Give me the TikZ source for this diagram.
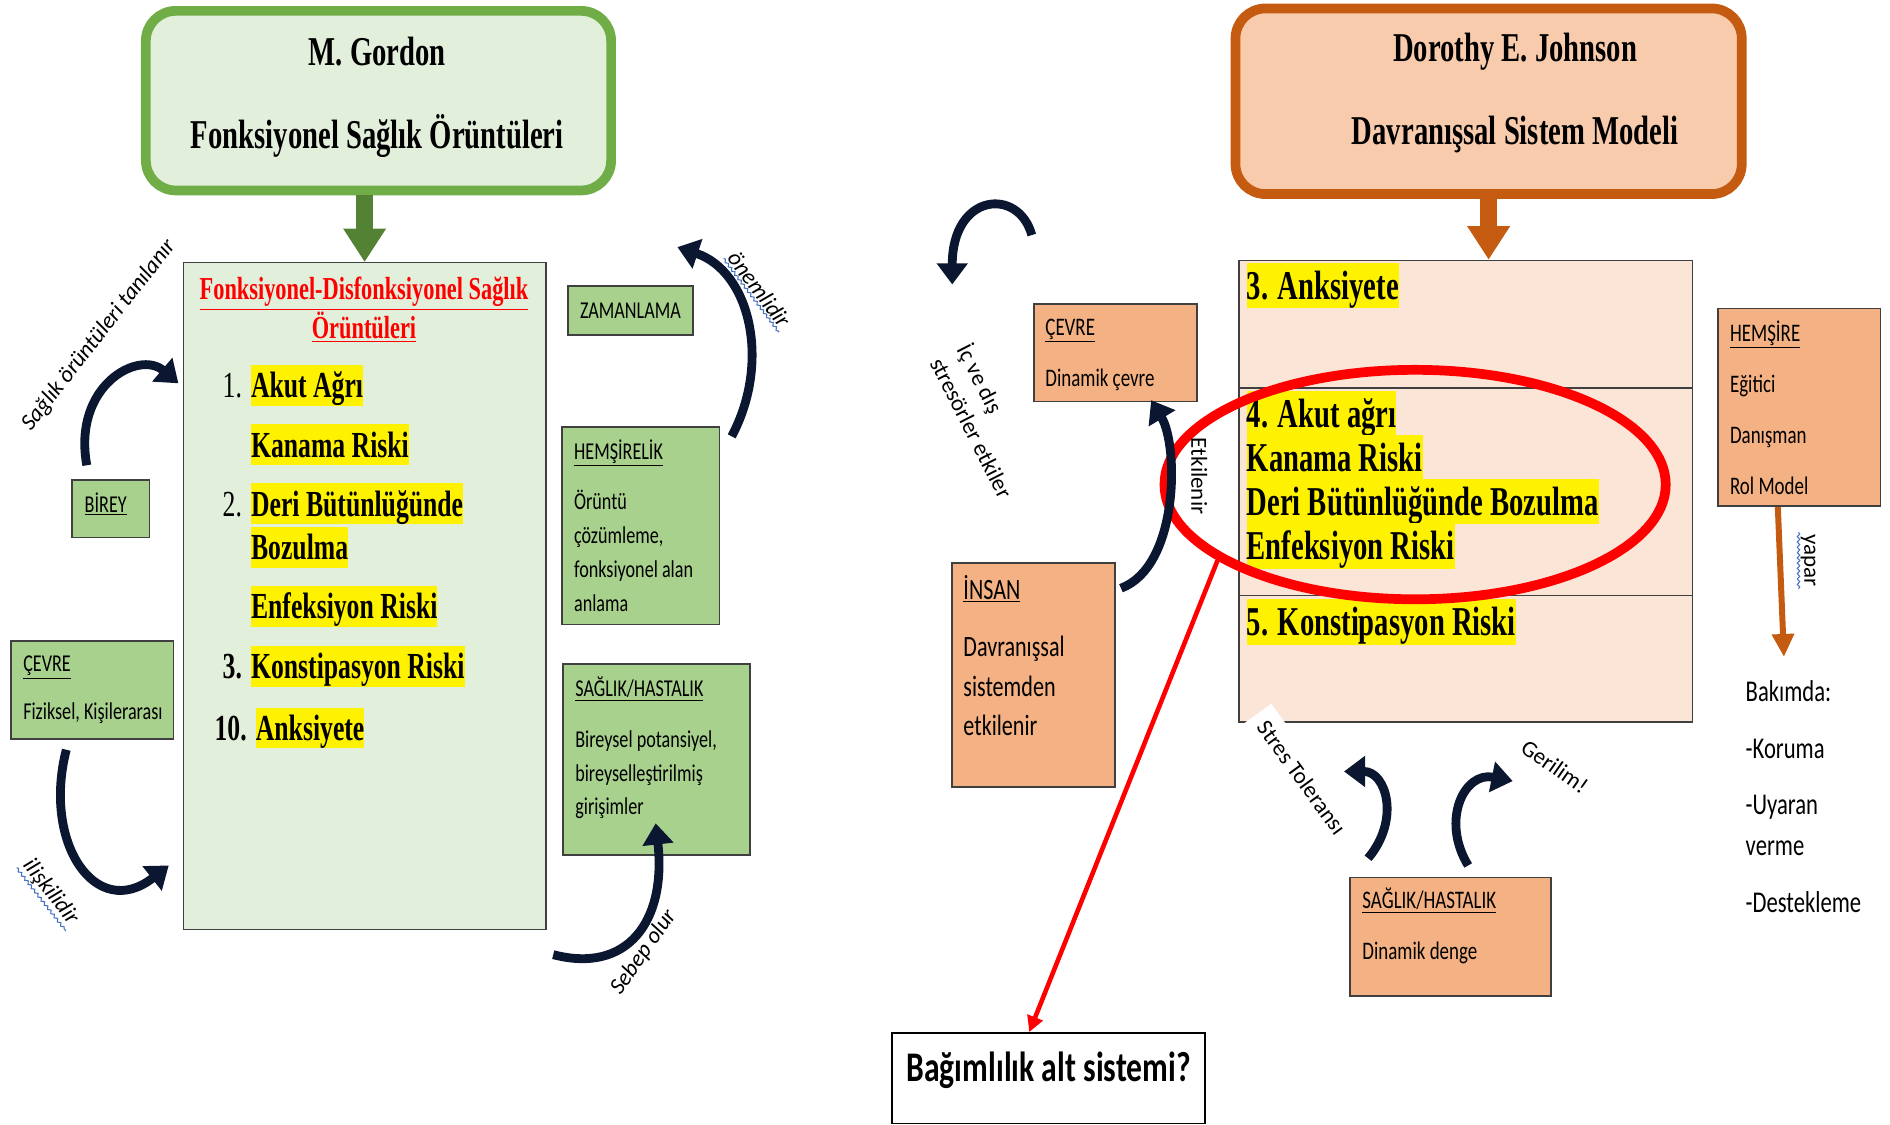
\documentclass[tikz,border=0pt]{standalone}
\usepackage{fontspec}
\setmainfont{Carlito}
\newfontfamily\timesc[FakeStretch=0.7]{Liberation Serif}
\newfontfamily\calic[FakeStretch=0.75]{Carlito}
\usepackage{tikz}
\usetikzlibrary{arrows.meta}
\usetikzlibrary{decorations.pathmorphing}
\usetikzlibrary{shapes,fit,calc,positioning}

\definecolor{gfill}{HTML}{E2EFDA}
\definecolor{gline}{HTML}{70AD47}
\definecolor{gdark}{HTML}{548235}
\definecolor{gsmall}{HTML}{A9D18E}
\definecolor{ofill}{HTML}{F8CBAD}
\definecolor{oline}{HTML}{C55A11}
\definecolor{opale}{HTML}{FBE5D6}
\definecolor{osmall}{HTML}{F4B183}
\definecolor{boxline}{HTML}{404040}
\definecolor{arcnavy}{HTML}{0B1730}
\definecolor{squig}{HTML}{4472C4}

\begin{document}
\begin{tikzpicture}[x=0.024cm,y=-0.024cm]
		\tikzstyle{model}=[rounded corners=17pt,line width=5.5pt,inner sep=0pt]
		\tikzstyle{panel}=[draw=boxline,line width=0.8pt,inner sep=0pt]
		\tikzstyle{small}=[draw=boxline,line width=1pt,inner sep=0pt]
		\tikzstyle{head}=[font=\timesc\bfseries\fontsize{23.2pt}{28pt}\selectfont,inner sep=0pt]
		\tikzstyle{lhl}=[fill=yellow,inner sep=0pt,anchor=west,font=\timesc\bfseries\fontsize{20.8pt}{25pt}\selectfont,text height=18.5pt,text depth=4.6pt]
		\tikzstyle{rhl}=[fill=yellow,inner sep=0pt,anchor=west,font=\timesc\bfseries\fontsize{23.2pt}{28pt}\selectfont,text height=20.6pt,text depth=5.1pt]
		\tikzstyle{num}=[inner sep=0pt,anchor=east,font=\timesc\fontsize{20.8pt}{25pt}\selectfont,text height=18.5pt,text depth=4.6pt]
		\tikzstyle{numb}=[num,font=\timesc\bfseries\fontsize{20.8pt}{25pt}\selectfont]
		\tikzstyle{ltxt}=[font=\calic\fontsize{13.7pt}{16pt}\selectfont,inner sep=0pt,anchor=base west]
		\tikzstyle{rtxt}=[font=\calic\fontsize{14.3pt}{17pt}\selectfont,inner sep=0pt,anchor=base west]
		\tikzstyle{note}=[font=\fontsize{13pt}{17pt}\selectfont,inner sep=1pt]
		\tikzstyle{inote}=[font=\itshape\fontsize{13pt}{17pt}\selectfont,inner sep=1pt]
		\tikzstyle{curv}=[draw=arcnavy,line width=5pt,-{Triangle[width=17pt,length=12pt]}]
		\tikzstyle{squiggle}=[draw=squig,line width=0.6pt,decorate,decoration={snake,amplitude=0.7pt,segment length=3pt}]

		\useasboundingbox (0,0) rectangle (1568,933);

		% left: Gordon
		\node[model,draw=gline,fill=gfill,fit={(121,9) (507,158)}](gordon){};
		\node[head](gname) at (313,43){M. Gordon};
		\node[head](gtitle) at (313,113){Fonksiyonel Sağlık Örüntüleri};

		\node[panel,fill=gfill,fit={(152,218) (453,771)}](fds){};
		\draw[gdark,line width=9.5pt,-{Triangle[width=23pt,length=19pt]}] (gordon.south -| fds.north) -- (fds.north);

		\node[font=\timesc\bfseries\fontsize{18.1pt}{20.5pt}\selectfont,text=red,align=center,inner sep=0pt](fdstitle) at (302,257){\underline{Fonksiyonel-Disfonksiyonel Sağlık}\\\underline{Örüntüleri}};

		\node[num](n1) at (201,320){1.};
		\node[lhl](l1) at (208,320){Akut Ağrı};
		\node[lhl](l2) at (208,369){Kanama Riski};
		\node[num](n2) at (201,418){2.};
		\node[lhl](l3) at (208,418){Deri Bütünlüğünde};
		\node[lhl](l4) at (208,454){Bozulma};
		\node[lhl](l5) at (208,503){Enfeksiyon Riski};
		\node[numb](n3) at (201,553){3.};
		\node[lhl](l6) at (208,553){Konstipasyon Riski};
		\node[numb](n10) at (205,604){10.};
		\node[lhl](l7) at (212,604){Anksiyete};

		\node[small,fill=gsmall,fit={(471,237) (575,278)}](zaman){};
		\node[font=\calic\fontsize{13.7pt}{16pt}\selectfont,inner sep=0pt](zamantxt) at (zaman.center){ZAMANLAMA};

		\node[small,fill=gsmall,fit={(466,354) (597,518)}](hemlik){};
		\node[ltxt](hemlik0) at (476,381){\underline{HEMŞİRELİK}};
		\foreach \t [count=\i] in {Örüntü,{çözümleme,},fonksiyonel alan,anlama}
			\node[ltxt](hemlik\i) at (476,395+28*\i){\t};

		\node[small,fill=gsmall,fit={(467,551) (622,709)}](lsag){};
		\node[ltxt](lsag0) at (477,578){\underline{SAĞLIK/HASTALIK}};
		\foreach \t [count=\i] in {{Bireysel potansiyel,},bireyselleştirilmiş,girişimler}
			\node[ltxt](lsag\i) at (477,592+28*\i){\t};

		\node[small,fill=gsmall,fit={(60,398) (124,446)}](birey){};
		\node[ltxt](bireytxt) at (70,425){\underline{BİREY}};

		\node[small,fill=gsmall,fit={(9,532) (144,613)}](lcevre){};
		\node[ltxt](lcevre0) at (19,557){\underline{ÇEVRE}};
		\node[ltxt](lcevre1) at (19,597){Fiziksel, Kişilerarası};

		% left curved arrows
		\coordinate (birA) at (72,386);
		\coordinate (birB) at (148,318);
		\draw[curv] (birA) .. controls (60,320) and (115,290) .. (birB);
		\node[inote,rotate=52](sagtan) at (82,278){Sağlık örüntüleri tanılanır};

		\coordinate (cevA) at (55,622);
		\coordinate (cevB) at (140,718);
		\draw[curv] (cevA) .. controls (35,700) and (80,765) .. (cevB);
		\node[inote,rotate=-52](iliski) at (42,740){ilişkilidir};
		\draw[squiggle] (iliski.south west) -- (iliski.south east);

		\coordinate (onA) at (607,362);
		\coordinate (onB) at (562,205);
		\draw[curv] (onA) .. controls (640,300) and (622,225) .. (onB);
		\node[inote,rotate=-53](onem) at (630,240){önemlidir};
		\draw[squiggle] (onem.south west) -- (onem.south east);

		\coordinate (sebA) at (459,792);
		\coordinate (sebB) at (544,683);
		\draw[curv] (sebA) .. controls (520,808) and (553,765) .. (sebB);
		\node[inote,rotate=55](sebep) at (534,790){Sebep olur};

		% right: Johnson
		\node[model,draw=oline,fill=ofill,fit={(1025,7) (1445,161)}](johnson){};
		\node[head](jname) at (1257,43){Dorothy E. Johnson};
		\node[head](jtitle) at (1257,112){Davranışsal Sistem Modeli};

		\node[panel,fill=opale,fit={(1028,216) (1404,322)}](rtop){};
		\node[panel,fill=opale,fit={(1028,322) (1404,494)}](rmid){};
		\node[panel,fill=opale,fit={(1028,494) (1404,599)}](rbot){};
		\draw[oline,line width=9.5pt,-{Triangle[width=23pt,length=19pt]}] (johnson.south) -- (johnson.south |- rtop.north);

		\node[rhl](r1) at (1034,237){3. Anksiyete};
		\node[rhl](r2) at (1034,343){4. Akut ağrı};
		\node[rhl](r3) at (1034,380){Kanama Riski};
		\node[rhl](r4) at (1034,416){Deri Bütünlüğünde Bozulma};
		\node[rhl](r5) at (1034,453){Enfeksiyon Riski};
		\node[rhl](r6) at (1034,516){5. Konstipasyon Riski};

		\node[ellipse,draw=red,line width=5.5pt,minimum width=284pt,minimum height=130pt,inner sep=0pt](ring) at (1174,402){};

		\node[draw=black,line width=1pt,fill=white,inner sep=0pt,fit={(740,857) (1000,932)}](bagim){};
		\node[font=\calic\bfseries\fontsize{23.9pt}{28pt}\selectfont,inner sep=0pt,anchor=base](bagtxt) at (870,897){Bağımlılık alt sistemi?};
		\draw[red,line width=2.6pt,-{Triangle[width=9pt,length=9pt]}] (ring.201) -- ([xshift=-11pt]bagim.north);

		\node[small,fill=osmall,fit={(858,252) (993,333)}](rcevre){};
		\node[rtxt](rcevre0) at (867,278){\underline{ÇEVRE}};
		\node[rtxt](rcevre1) at (867,321){Dinamik çevre};

		\node[small,fill=osmall,fit={(790,467) (925,653)}](insan){};
		\node[rtxt,font=\calic\fontsize{16.7pt}{20pt}\selectfont](insan0) at (799,497){\underline{İNSAN}};
		\foreach \t [count=\i] in {Davranışsal,sistemden,etkilenir}
			\node[rtxt,font=\calic\fontsize{16.7pt}{20pt}\selectfont](insan\i) at (799,512.5+32.5*\i){\t};

		\node[small,fill=osmall,fit={(1425,256) (1560,420)}](hemsire){};
		\node[rtxt](hemsire0) at (1435,283){\underline{HEMŞİRE}};
		\foreach \t [count=\i] in {Eğitici,Danışman,Rol Model}
			\node[rtxt](hemsire\i) at (1435,283+42.3*\i){\t};

		\node[small,fill=osmall,fit={(1120,728) (1287,826)}](rsag){};
		\node[rtxt](rsag0) at (1130,754){\underline{SAĞLIK/HASTALIK}};
		\node[rtxt](rsag1) at (1130,796){Dinamik denge};

		\coordinate (yapend) at (1480,545);
		\draw[oline,line width=3.4pt,-{Triangle[width=12pt,length=13pt]}] ([xshift=-12pt]hemsire.south) -- (yapend);
		\node[note,rotate=-90](yapar) at (1500,465){yapar};
		\draw[squiggle] (yapar.south west) -- (yapar.south east);

		\node[rtxt,font=\calic\fontsize{17.1pt}{20pt}\selectfont](bak0) at (1448,582){Bakımda:};
		\node[rtxt,font=\calic\fontsize{17.1pt}{20pt}\selectfont](bak1) at (1448,629){-Koruma};
		\node[rtxt,font=\calic\fontsize{17.1pt}{20pt}\selectfont](bak2) at (1448,676){-Uyaran};
		\node[rtxt,font=\calic\fontsize{17.1pt}{20pt}\selectfont](bak3) at (1448,710){verme};
		\node[rtxt,font=\calic\fontsize{17.1pt}{20pt}\selectfont](bak4) at (1448,757){-Destekleme};

		% right curved arrows
		\coordinate (icA) at (856,195);
		\coordinate (icB) at (790,236);
		\draw[curv] (icA) .. controls (845,155) and (790,160) .. (icB);
		\node[note,rotate=-63,align=left](icdis) at (818,349){İç ve dış\\stresörler etkiler};

		\coordinate (etA) at (930,488);
		\coordinate (etB) at (955,332);
		\draw[curv] (etA) .. controls (978,470) and (978,370) .. (etB);
		\node[note,rotate=-90](etkil) at (995,395){Etkilenir};

		\node[note,rotate=-54,fill=white,inner sep=6pt](stol) at (1080,645){Stres Toleransı};
		\coordinate (stA) at (1135,712);
		\coordinate (stB) at (1115,640);
		\draw[curv] (stA) .. controls (1162,680) and (1150,640) .. (stB);

		\coordinate (geA) at (1218,718);
		\coordinate (geB) at (1255,648);
		\draw[curv] (geA) .. controls (1195,680) and (1215,640) .. (geB);
		\node[note,rotate=-35](geril) at (1290,636){Gerilim!};
	\end{tikzpicture}
\end{document}
